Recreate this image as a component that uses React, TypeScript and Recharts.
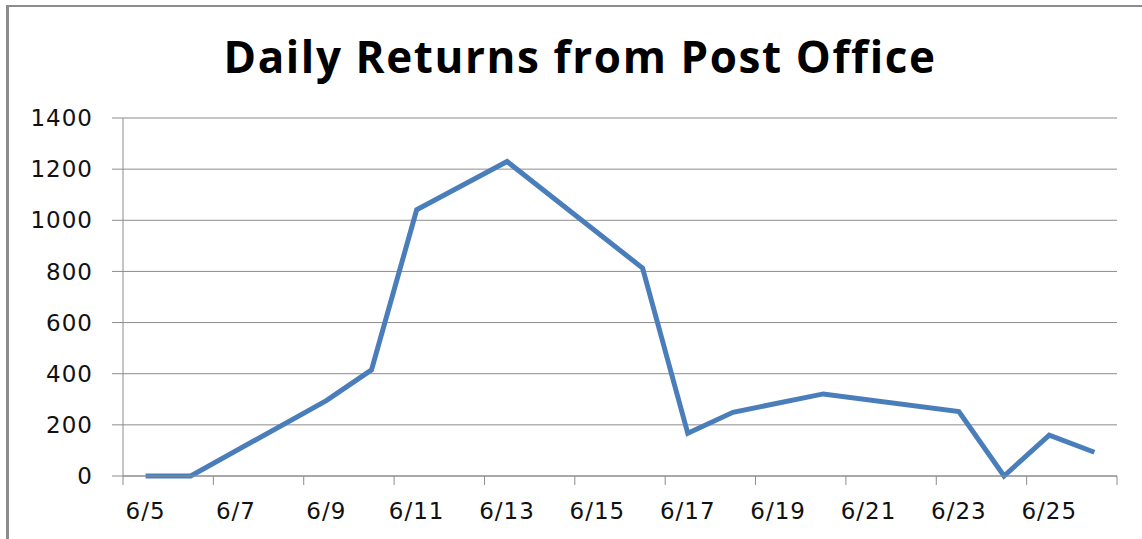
import { CartesianGrid, Line, LineChart, XAxis, YAxis } from 'recharts';

const DATES = [
  '6/5', '6/6', '6/7', '6/8', '6/9', '6/10', '6/11', '6/12', '6/13', '6/14', '6/15',
  '6/16', '6/17', '6/18', '6/19', '6/20', '6/21', '6/22', '6/23', '6/24', '6/25', '6/26',
];
// null = no count recorded that day (Excel date axis just joins the neighbours)
const RETURNS = [
  0, 0, null, null, 295, 415, 1041, null, 1230, null, null,
  813, 167, 249, null, 321, null, null, 252, 0, 160, 93,
];
const Y_TICKS = [0, 200, 400, 600, 800, 1000, 1200, 1400];

const GRID = '#8c8c8c';
const LINE = '#4a7ebb';
const TICK_FONT = { fontFamily: 'DejaVu Sans', fontSize: 23, fill: '#111', letterSpacing: 1 };

const data = DATES.map((day, i) => ({ day, returns: RETURNS[i] }));

const PLOT_W = 994;
const HALF_BAND = PLOT_W / DATES.length / 2;
const X_TICK_SIZE = 9;
const X_TICK_MARGIN = 18;

// labels sit mid-day, tick marks sit on the day boundaries (Excel style)
function DateTick(props: any) {
  const { x, y, payload } = props;
  const lineTop = y - X_TICK_SIZE - X_TICK_MARGIN;
  const idx = payload.index ?? DATES.indexOf(payload.value);
  const isLast = idx + 2 > DATES.length - 1;
  const endX = x - HALF_BAND + (DATES.length - idx) * 2 * HALF_BAND;
  return (
    <g>
      <line x1={x - HALF_BAND} x2={x - HALF_BAND} y1={lineTop} y2={lineTop + X_TICK_SIZE} stroke={GRID} />
      {isLast && <line x1={endX} x2={endX} y1={lineTop} y2={lineTop + X_TICK_SIZE} stroke={GRID} />}
      <text x={x} y={y} dy="0.71em" textAnchor="middle" {...TICK_FONT}>
        {payload.value}
      </text>
    </g>
  );
}

export default function App() {
  return (
    <div style={{ position: 'relative', width: 1142, height: 539, overflow: 'hidden', background: '#fff' }}>
      <style>{'body{margin:0}'}</style>
      <div
        style={{
          position: 'absolute',
          left: 6,
          top: 5,
          width: 1200,
          height: 600,
          borderTop: `2px solid ${GRID}`,
          borderLeft: `3px solid ${GRID}`,
        }}
      />
      <div
        style={{
          position: 'absolute',
          left: 0,
          top: 34,
          width: 1160,
          textAlign: 'center',
          fontFamily: 'Open Sans',
          fontWeight: 700,
          fontSize: 44,
          lineHeight: 1,
          letterSpacing: 1.6,
          color: '#000',
        }}
      >
        Daily Returns from Post Office
      </div>
      <LineChart
        width={1142}
        height={539}
        data={data}
        margin={{ top: 118, right: 25, left: 0, bottom: 0 }}
        style={{ position: 'absolute', left: 0, top: 0 }}
      >
        <CartesianGrid vertical={false} stroke={GRID} />
        <XAxis
          dataKey="day"
          height={63}
          interval={1}
          padding={{ left: HALF_BAND, right: HALF_BAND }}
          axisLine={{ stroke: GRID }}
          tickLine={false}
          tickSize={X_TICK_SIZE}
          tickMargin={X_TICK_MARGIN}
          tick={<DateTick />}
        />
        <YAxis
          width={123}
          domain={[0, 1400]}
          ticks={Y_TICKS}
          axisLine={{ stroke: GRID }}
          tickLine={{ stroke: GRID }}
          tickSize={11}
          tickMargin={19}
          tick={TICK_FONT}
        />
        <Line
          type="linear"
          dataKey="returns"
          stroke={LINE}
          strokeWidth={5}
          dot={false}
          connectNulls
          isAnimationActive={false}
        />
      </LineChart>
    </div>
  );
}
